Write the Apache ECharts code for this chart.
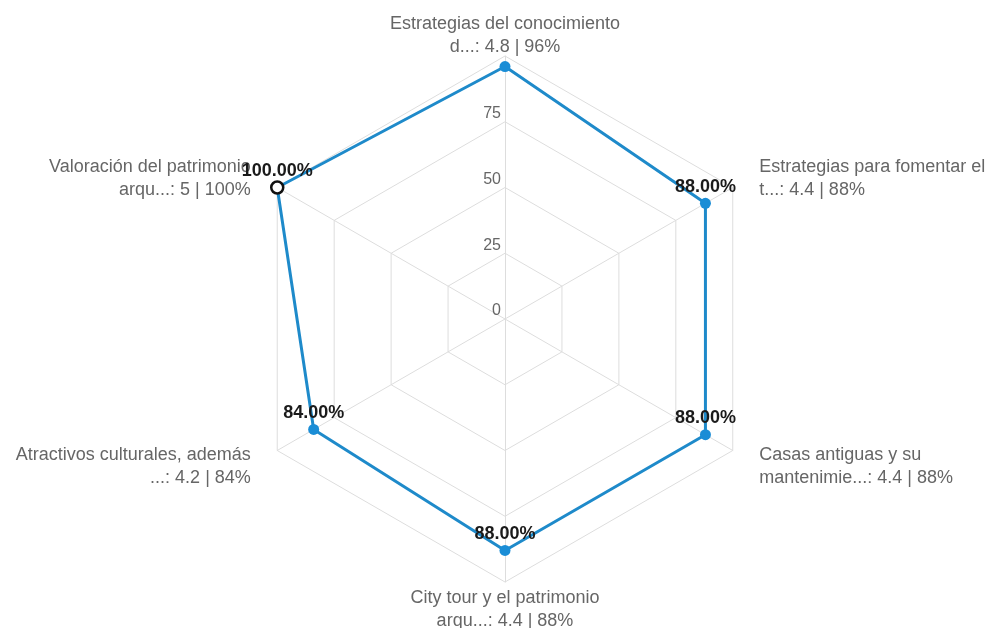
<!DOCTYPE html>
<html><head><meta charset="utf-8">
<script src="https://cdn.jsdelivr.net/npm/echarts@6/dist/echarts.min.js"></script>
<style>html,body{margin:0;padding:0;background:#fff}#c{width:994px;height:628px}</style>
</head><body><div id="c"></div>
<script>
// Indicators in ECharts order (counter-clockwise from top)
const categories = [
  'Estrategias del conocimiento\nd...',
  'Valoración del patrimonio\narqu...',
  'Atractivos culturales, además\n...',
  'City tour y el patrimonio\narqu...',
  'Casas antiguas y su\nmantenimie...',
  'Estrategias para fomentar el\nt...'
];
const scores = [4.8, 5, 4.2, 4.4, 4.4, 4.4];
const percents = [96, 100, 84, 88, 88, 88];
const axisMax = 100;
const axisSplits = 4;
const highlightIndex = 1;

const n = categories.length;
function angleOf(i) { return 90 + i * 360 / n; }
function nameText(i) {
  const base = (categories[i] + ': ' + scores[i] + ' | ' + percents[i] + '%')
    .split('\n').map(l => '{t|' + l + '}').join('\n');
  const a = angleOf(i) * Math.PI / 180;
  const s = Math.sin(a), c = Math.cos(a);
  if (Math.abs(c) < 0.01) return s > 0 ? base : '{bot| }\n' + base;
  return s > 0 ? base + '\n{up| }' : '{down| }\n' + base;
}
const indicator = categories.map((c, i) => {
  const o = { name: nameText(i), min: 0, max: axisMax };
  if (i === 0) o.axisLabel = { show: true };
  return o;
});

const FONT = '"Liberation Sans", Arial, sans-serif';
const chart = echarts.init(document.getElementById('c'));
chart.setOption({
  animation: false,
  radar: {
    center: [505, 319],
    radius: 263,
    startAngle: 90,
    shape: 'polygon',
    splitNumber: axisSplits,
    indicator: indicator,
    nameGap: -3,
    axisName: {
      color: '#666', fontSize: 18, lineHeight: 23, fontFamily: FONT,
      padding: [0, 29, 0, 29],
      rich: {
        t: { color: '#666', fontSize: 18, lineHeight: 23, fontFamily: FONT },
        up: { fontSize: 10, lineHeight: 20 },
        down: { fontSize: 10, lineHeight: 35 },
        bot: { fontSize: 8, lineHeight: 8 }
      }
    },
    axisLine: { lineStyle: { color: '#dddddd', width: 1 } },
    splitLine: { lineStyle: { color: '#dddddd', width: 1 } },
    splitArea: { show: false },
    axisTick: { show: false },
    axisLabel: {
      show: false, color: '#666', fontSize: 16, margin: 4, fontFamily: FONT,
      verticalAlign: 'bottom', showMaxLabel: false, showMinLabel: true
    }
  },
  polar: { center: [505, 319], radius: 263 },
  angleAxis: { type: 'value', min: 0, max: 360, startAngle: 0, clockwise: false, show: false },
  radiusAxis: { type: 'value', min: 0, max: axisMax, show: false },
  series: [
    {
      type: 'radar',
      symbol: 'circle',
      symbolSize: 11,
      itemStyle: { color: '#1a8dd6' },
      lineStyle: { color: '#1e8aca', width: 3 },
      label: {
        show: true, position: 'top', distance: 2,
        color: '#1a1a1a', fontWeight: 'bold', fontSize: 18, fontFamily: FONT,
        formatter: p => (p.value === percents[0] ? '' : Number(p.value).toFixed(2) + '%')
      },
      data: [{ value: percents }]
    },
    {
      type: 'scatter',
      coordinateSystem: 'polar',
      silent: true,
      symbol: 'circle',
      symbolSize: 12,
      z: 5,
      itemStyle: { color: '#fff', borderColor: '#111', borderWidth: 2.5, opacity: 1 },
      data: [[percents[highlightIndex], angleOf(highlightIndex)]]
    }
  ]
});
</script>
</body></html>
